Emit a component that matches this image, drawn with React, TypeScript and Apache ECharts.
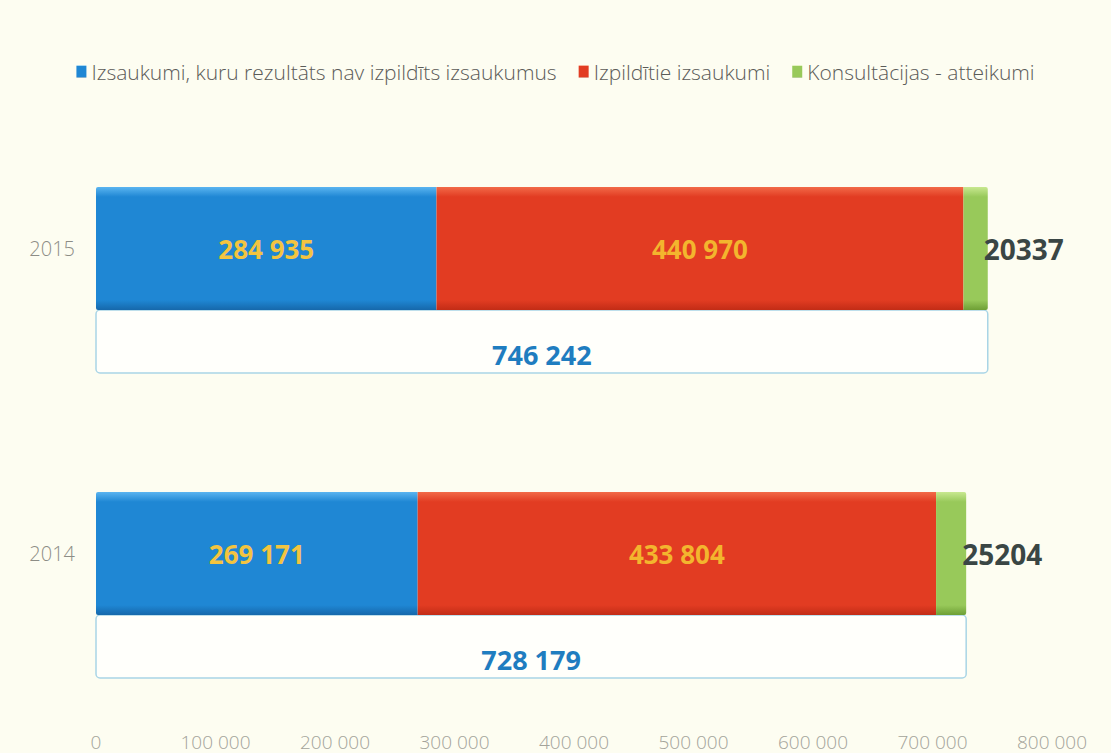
import React, { useEffect, useRef } from "react";
import * as echarts from "echarts";

const categories = ["2014", "2015"];
const notFulfilled = [269171, 284935];
const fulfilled = [433804, 440970];
const consultations = [25204, 20337];
const totals = [728179, 746242];
const seriesNames = [
  "Izsaukumi, kuru rezultāts nav izpildīts izsaukumus",
  "Izpildītie izsaukumi",
  "Konsultācijas - atteikumi",
];
const xTicks = { min: 0, max: 800000, interval: 100000 };

const fmt = (v: number) => String(Math.round(v)).replace(/\B(?=(\d{3})+(?!\d))/g, " ");

const grad = (top: string, mid: string, bottom: string) =>
  new echarts.graphic.LinearGradient(0, 0, 0, 1, [
    { offset: 0, color: top },
    { offset: 0.08, color: mid },
    { offset: 0.92, color: mid },
    { offset: 1, color: bottom },
  ]);

const BAR_RATIO = 123 / 305;
const BOX_RATIO = 63 / 305;

export default function App() {
  const ref = useRef<HTMLDivElement>(null);
  useEffect(() => {
    document.body.style.margin = "0";
    const chart = echarts.init(ref.current!, null, { renderer: "svg" });
    const numFont = "'Open Sans', 'Noto Sans', sans-serif";
    const textFont = "'Open Sans', 'Noto Sans', sans-serif";
    chart.setOption({
      animation: false,
      backgroundColor: "#fdfdf1",
      legend: {
        top: 56,
        left: "center",
        icon: "rect",
        itemWidth: 10,
        itemHeight: 12,
        itemGap: 22,
        textStyle: { color: "#5b5b58", fontSize: 21, fontWeight: 300, fontFamily: textFont },
        data: seriesNames,
      },
      grid: { left: 96, right: 59, top: 96, bottom: 47, containLabel: false },
      xAxis: {
        type: "value",
        min: xTicks.min,
        max: xTicks.max,
        interval: xTicks.interval,
        axisLine: { show: false },
        axisTick: { show: false },
        splitLine: { show: false },
        axisLabel: {
          margin: 26,
          color: "#a3a39a",
          fontSize: 19,
          fontWeight: 300,
          fontFamily: textFont,
          formatter: (v: number) => fmt(v),
        },
      },
      yAxis: {
        type: "category",
        data: categories,
        axisLine: { show: false },
        axisTick: { show: false },
        axisLabel: { margin: 21, color: "#8d8d86", fontSize: 20, fontFamily: textFont, fontWeight: 300 },
      },
      series: [
        {
          name: seriesNames[0],
          type: "bar",
          stack: "s",
          barWidth: "40.3%",
          data: notFulfilled,
          itemStyle: { color: grad("#5ab4f0", "#1f87d4", "#1668ab"), borderRadius: [2, 0, 0, 2] },
          label: {
            show: true,
            position: "inside",
            color: "#f3c440",
            fontSize: 26,
            fontWeight: "bold",
            fontFamily: numFont,
            formatter: (p: any) => fmt(p.value),
          },
        },
        {
          name: seriesNames[1],
          type: "bar",
          stack: "s",
          data: fulfilled,
          itemStyle: { color: grad("#f26a48", "#e23c22", "#c22c16") },
          label: {
            show: true,
            position: "inside",
            color: "#f3b52e",
            fontSize: 26,
            fontWeight: "bold",
            fontFamily: numFont,
            formatter: (p: any) => fmt(p.value),
          },
        },
        {
          name: seriesNames[2],
          type: "bar",
          stack: "s",
          data: consultations,
          itemStyle: { color: grad("#c8e890", "#98c95a", "#6e9f35"), borderRadius: [0, 2, 2, 0] },
          label: {
            show: true,
            position: "right",
            distance: -4,
            color: "#3a4644",
            fontSize: 28,
            fontWeight: "bold",
            fontFamily: numFont,
            formatter: (p: any) => String(p.value),
          },
        },
        {
          name: "total",
          type: "custom",
          data: totals.map((t, i) => [t, i]),
          encode: { x: 0, y: 1 },
          z: 1,
          renderItem: (params: any, api: any) => {
            const s = api.coord([0, api.value(1)]);
            const e = api.coord([api.value(0), api.value(1)]);
            const band = api.size([0, 1])[1];
            const barH = band * BAR_RATIO;
            const boxH = band * BOX_RATIO;
            const y0 = s[1] + barH / 2;
            return {
              type: "group",
              children: [
                {
                  type: "rect",
                  shape: { x: s[0], y: y0, width: e[0] - s[0], height: boxH, r: 4 },
                  style: { fill: "#fffffb", stroke: "#a9d5e6", lineWidth: 1.5 },
                },
                {
                  type: "text",
                  style: {
                    text: fmt(api.value(0)),
                    x: (s[0] + e[0]) / 2,
                    y: y0 + boxH / 2 + 13,
                    align: "center",
                    verticalAlign: "middle",
                    fill: "#1f7dc0",
                    font: `bold 27px ${numFont}`,
                  },
                },
              ],
            };
          },
        },
      ],
    });
    return () => chart.dispose();
  }, []);
  return <div ref={ref} style={{ width: 1111, height: 753 }} />;
}
